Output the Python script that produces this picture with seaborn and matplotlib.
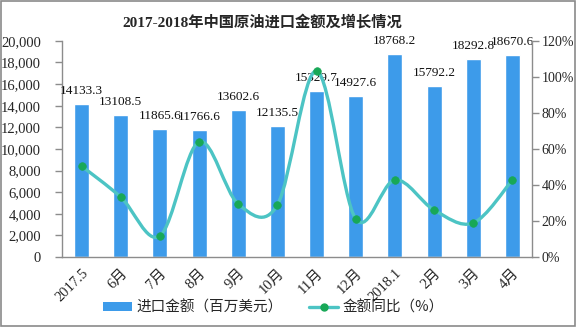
import numpy as np
import pandas as pd
import matplotlib
matplotlib.use("Agg")
import matplotlib.pyplot as plt
from matplotlib.path import Path
from matplotlib.patches import PathPatch, Patch, Rectangle
from matplotlib.lines import Line2D
import seaborn as sns

months = ["2017.5", "6月", "7月", "8月", "9月", "10月", "11月", "12月",
          "2018.1", "2月", "3月", "4月"]
import_value = [14133.3, 13108.5, 11865.6, 11766.6, 13602.6, 12135.5,
                15329.7, 14927.6, 18768.2, 15792.2, 18292.8, 18670.6]
yoy_growth = [50.5, 33.3, 11.7, 64.0, 29.4, 28.9,
              103.3, 21.1, 42.8, 26.1, 18.9, 42.8]
left_ticks = [0, 2000, 4000, 6000, 8000, 10000, 12000, 14000, 16000, 18000, 20000]
right_ticks = [0, 20, 40, 60, 80, 100, 120]

BAR_COLOR = "#3d9bea"
LINE_COLOR = "#4cc4c4"
MARK_COLOR = "#18a857"
AXIS_COLOR = "#8c8c8c"
NUM_FONT = ["Liberation Serif", "Noto Sans CJK SC"]
CJK_FONT = ["Noto Sans CJK SC", "DejaVu Sans"]

sns.set_theme(style="white")
plt.rcParams["font.family"] = CJK_FONT

df = pd.DataFrame({"month": months, "value": import_value, "growth": yoy_growth})
df["pos"] = np.arange(len(df))

fig = plt.figure(figsize=(5.76, 3.27), dpi=100)
ax = fig.add_axes([0.1076, 0.214, 0.816, 0.661])

sns.barplot(data=df, x="month", y="value", ax=ax, color=BAR_COLOR,
            width=0.38, saturation=1, zorder=2)
ax.set_xlim(-0.5, len(months) - 0.5)
ax.set_ylim(0, 20000)
ax.set_yticks(left_ticks)
ax.set_yticklabels([f"{t:,}" for t in left_ticks], family=NUM_FONT, fontsize=10.5)
ax.set_xlabel("")
ax.set_ylabel("")

# category boundary ticks on the x axis, labels centred under bars
ax.set_xticks(df["pos"])
ax.set_xticklabels(months, rotation=45, ha="right", rotation_mode="anchor",
                   family=NUM_FONT, fontsize=10.5)
ax.tick_params(axis="x", length=0, pad=7)
ax.set_xticks(np.arange(-0.5, len(months), 1), minor=True)
ax.tick_params(axis="x", which="minor", length=5, color=AXIS_COLOR, width=1)
ax.tick_params(axis="y", length=5, color=AXIS_COLOR, width=1, pad=10, left=True)

for side in ["top", "right"]:
    ax.spines[side].set_visible(False)
for side in ["left", "bottom"]:
    ax.spines[side].set_color(AXIS_COLOR)
    ax.spines[side].set_linewidth(1)

for x, v in zip(df["pos"], df["value"]):
    ax.annotate(f"{v:.1f}", (x, v), xytext=(0, 5), textcoords="offset points",
                ha="center", va="bottom", fontsize=9.5, family=NUM_FONT,
                color="#111111", zorder=5)

ax2 = ax.twinx()
ax2.set_ylim(0, 120)
ax2.set_yticks(right_ticks)
ax2.set_yticklabels([f"{t}%" for t in right_ticks], family=NUM_FONT, fontsize=10)
ax2.tick_params(axis="y", length=5, color=AXIS_COLOR, width=1, pad=2, right=True)
for side in ["top", "left", "bottom"]:
    ax2.spines[side].set_visible(False)
ax2.spines["right"].set_color(AXIS_COLOR)
ax2.spines["right"].set_linewidth(1)

# smoothed growth line: Catmull-Rom segments as cubic Bezier curves
xs = df["pos"].to_numpy(dtype=float)
ys = df["growth"].to_numpy(dtype=float)
pts = np.column_stack([xs, ys])
ext = np.vstack([pts[0], pts, pts[-1]])
verts = [tuple(pts[0])]
codes = [Path.MOVETO]
for i in range(1, len(ext) - 2):
    p0, p1, p2, p3 = ext[i - 1], ext[i], ext[i + 1], ext[i + 2]
    c1 = p1 + (p2 - p0) / 6.0
    c2 = p2 - (p3 - p1) / 6.0
    verts += [tuple(c1), tuple(c2), tuple(p2)]
    codes += [Path.CURVE4] * 3
ax2.add_patch(PathPatch(Path(verts, codes), facecolor="none",
                        edgecolor=LINE_COLOR, linewidth=2.4, zorder=3))
sns.scatterplot(data=df, x="pos", y="growth", ax=ax2, color=MARK_COLOR,
                s=30, edgecolor=MARK_COLOR, linewidth=0.5, zorder=4, legend=False)
ax2.set_xlim(-0.5, len(months) - 0.5)
ax2.set_xlabel("")
ax2.set_ylabel("")

fig.text(0.455, 0.933, "2017-2018年中国原油进口金额及增长情况", ha="center",
         va="center", fontsize=11, fontweight="bold",
         family=["Liberation Serif", "Noto Sans CJK SC"])

handles = [
    Patch(facecolor=BAR_COLOR, edgecolor="none"),
    Line2D([0], [0], color=LINE_COLOR, lw=2.4, marker="o",
           markerfacecolor=MARK_COLOR, markeredgecolor=MARK_COLOR, markersize=5),
]
fig.legend(handles, ["进口金额（百万美元）", "金额同比（%）"], loc="center",
           bbox_to_anchor=(0.475, 0.06), ncol=2, frameon=False,
           prop={"family": CJK_FONT, "size": 10.5}, handlelength=2.0,
           handleheight=0.6, columnspacing=1.8, handletextpad=0.3)

fig.patches.append(Rectangle((0.001, 0.002), 0.997, 0.995, transform=fig.transFigure,
                             fill=False, edgecolor="#8a8a8a", linewidth=1.2))

fig.savefig("out.png", dpi=100)
